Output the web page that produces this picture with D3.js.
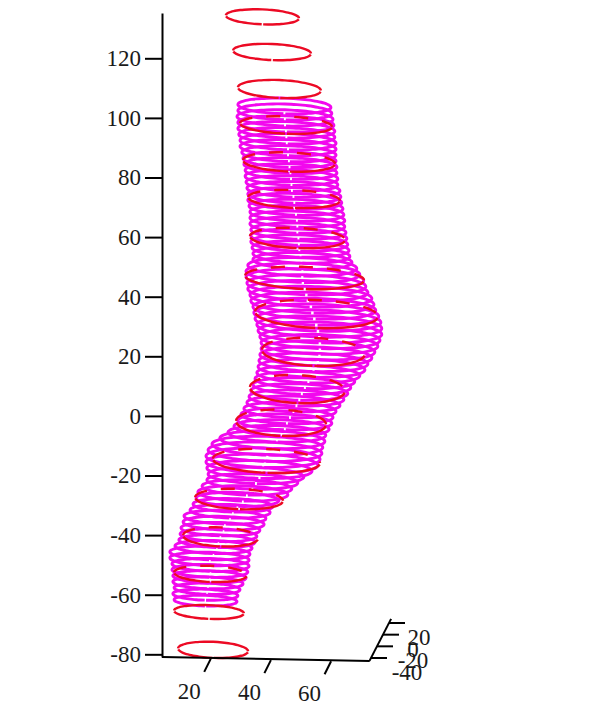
<!DOCTYPE html>
<html>
<head>
  <meta charset="UTF-8">
  <title>Ring stack</title>
  <script src="https://d3js.org/d3.v7.min.js"></script>
  <style>
    html, body { margin: 0; padding: 0; background: #fff; }
    svg { display: block; }
    text { font-family: "Liberation Serif", serif; font-size: 23px; fill: #1a1a1a; }
    .axis path, .axis line, .axis-line { stroke: #000; stroke-width: 2; fill: none; }
  </style>
</head>
<body>
  <svg width="600" height="707"></svg>
  <script>
    const zTicks = [120, 100, 80, 60, 40, 20, 0, -20, -40, -60, -80];
    const xTicks = [20, 40, 60];
    const depthTicks = [20, 0, -20, -40];

    // magenta rings, top to bottom
    const ringZ = [104,102,100,98,96,94,92,90,88,86,84,82,80,78,76,74,72,70,68,66,64,62,60,58,56,54,52,50,48,46,44,42,40,38,36,34,32,30,28,26,24,22,20,18,16,14,12,10,8,6,4,2,0,-2,-4,-6,-8,-10,-12,-14,-16,-18,-20,-22,-24,-26,-28,-30,-32,-34,-36,-38,-40,-42,-44,-46,-48,-50,-52,-54,-56,-58,-60,-62];
    const ringLeft = [29.2,29.2,28.9,29.2,29.2,29.5,29.9,29.9,30.5,30.9,31.2,31.6,31.6,31.9,32.2,32.5,32.5,32.9,33.2,33.2,33.2,33.5,33.5,33.5,33.9,34.2,34.2,32.5,31.9,31.9,32.2,32.5,33.2,33.5,34.2,34.5,34.9,35.5,35.9,36.5,36.9,36.9,36.5,36.2,35.9,35.5,34.9,34.2,33.5,32.9,32.2,31.2,30.2,29.2,27.9,25.9,23.2,20.6,19.3,18.6,18.6,18.9,19.3,18.9,17.3,15.9,15.3,14.3,13.3,11.3,11,10.3,10,9.6,8.3,6.6,6.6,7.3,7.3,7.6,7.6,8,7.6,8];
    const ringRight = [60.1,60.4,60.8,61.1,61.4,61.4,61.8,61.8,61.8,61.8,62.1,62.1,62.4,62.4,63.1,63.4,63.7,64.1,64.4,64.7,64.7,65.1,65.4,65.7,66.1,66.4,67.1,68.7,69.7,71,71.7,72.4,73.7,74.4,75,76,76.7,77,77,76.4,75.7,74.7,73.7,72.4,71.4,69.7,68,66.7,65.7,64.4,63.1,61.8,60.8,60.4,59.5,58.4,58.1,57.4,57.1,56.5,55.8,53.8,51.1,49.1,47.1,45.8,42.8,40.8,39.9,38.5,37.9,36.5,35.5,34.9,33.9,33.2,32.9,32.9,32.5,31.9,30.9,29.9,29.2,28.9];

    // red rings
    const redZ = [133.9,122.1,109.7,97.6,85.2,72.8,59.7,46.3,34.2,21.5,9,-2.3,-15.1,-27.9,-40.6,-53,-65.8,-78.5];
    const redLeft = [25.2,27.6,29.2,29.9,30.9,32.6,33.2,31.6,34.9,37.2,33.2,28.6,20.9,15,11,8,8,9.3];
    const redRight = [49.5,53.5,56.8,60.5,61.5,63.1,64.8,71.1,75.7,71.4,64.8,58.5,56.5,44.2,35.9,32.2,31.2,32.6];
    const redMinor = [2.5,2.7,3,2.9,3.2,3,3.4,3.7,4.7,4.7,4.7,4.4,4,3.4,3.2,2.7,2.3,2.7];

    const svg = d3.select("svg");

    const z = d3.scaleLinear().domain([135.2, -80.9]).range([13, 657]);
    const x = d3.scaleLinear().domain([0, 80]).range([150, 390.8]);
    const xBase = d3.scaleLinear().domain([4, 73]).range([657, 661]);
    const depthX = d3.scaleLinear().domain([-40, 20]).range([371, 389]);
    const depthY = d3.scaleLinear().domain([-40, 20]).range([658, 623]);

    const sweep = d3.range(0, 49).map(i => Math.PI / 2 + 0.02 + i / 48 * (2 * Math.PI - 0.04));
    const ringLine = d3.line().curve(d3.curveCardinal);

    function ringPoints(zv, left, right, minor, tilt, angles) {
      const x0 = x(left), x1 = x(right);
      const cx = (x0 + x1) / 2, rx = (x1 - x0) / 2;
      const ry = z(zv - minor) - z(zv);
      return angles.map(a => {
        const px = rx * Math.cos(a);
        return [cx + px, z(zv) + ry * Math.sin(a) + px * tilt];
      });
    }

    const frontStart = sweep.filter(a => a < Math.PI + 0.01);
    const frontEnd = sweep.filter(a => a > 2 * Math.PI - 0.01);
    const backArc = sweep.filter(a => a >= Math.PI - 0.01 && a <= 2 * Math.PI + 0.01);

    svg.append("g").selectAll("path")
      .data(ringZ)
      .enter().append("path")
      .attr("d", (d, i) => ringLine(ringPoints(d, ringLeft[i], ringRight[i], (ringRight[i] - ringLeft[i]) * 0.085, 0.03, sweep)))
      .attr("fill", "none")
      .attr("stroke", "#f208ee")
      .attr("stroke-width", 2.9);

    // red front arcs solid, back arcs broken up as they are mostly hidden in the reference
    const redOver = svg.append("g")
      .attr("fill", "none")
      .attr("stroke", "#ec0a24")
      .attr("stroke-width", 2.4);
    redOver.selectAll("path.front-a")
      .data(redZ)
      .enter().append("path").attr("class", "front-a")
      .attr("d", (d, i) => ringLine(ringPoints(d, redLeft[i], redRight[i], redMinor[i], 0.04, frontStart)));
    redOver.selectAll("path.front-b")
      .data(redZ)
      .enter().append("path").attr("class", "front-b")
      .attr("d", (d, i) => ringLine(ringPoints(d, redLeft[i], redRight[i], redMinor[i], 0.04, frontEnd)));
    redOver.selectAll("path.back")
      .data(redZ)
      .enter().append("path").attr("class", "back")
      .attr("stroke-dasharray", (d, i) => (i < 3 || i > 15) ? null : "14 14")
      .attr("d", (d, i) => ringLine(ringPoints(d, redLeft[i], redRight[i], redMinor[i], 0.04, backArc)));

    // vertical axis
    svg.append("g")
      .attr("class", "axis")
      .attr("transform", "translate(162,0)")
      .call(d3.axisLeft(z).tickValues(zTicks).tickSize(17).tickSizeOuter(0).tickPadding(4).tickFormat(d => String(d)))
      .attr("font-family", null).attr("font-size", null);

    // floor axis
    svg.append("line").attr("class", "axis-line")
      .attr("x1", x(4)).attr("y1", xBase(4)).attr("x2", x(73)).attr("y2", xBase(73));
    const xg = svg.append("g").selectAll("g").data(xTicks).enter().append("g");
    xg.append("line").attr("class", "axis-line")
      .attr("x1", d => x(d) + 0.5).attr("y1", d => xBase(d) + 1)
      .attr("x2", d => x(d) - 6).attr("y2", d => xBase(d) + 14);
    xg.append("text").attr("text-anchor", "middle")
      .attr("x", d => x(d) - 21).attr("y", d => xBase(d) + 41)
      .text(d => d);

    // depth axis
    svg.append("line").attr("class", "axis-line")
      .attr("x1", depthX(-45)).attr("y1", depthY(-45)).attr("x2", depthX(27)).attr("y2", depthY(27));
    const dg = svg.append("g").selectAll("g").data(depthTicks).enter().append("g");
    dg.append("line").attr("class", "axis-line")
      .attr("x1", d => depthX(d)).attr("y1", d => depthY(d))
      .attr("x2", d => depthX(d) + 16).attr("y2", d => depthY(d));
    dg.append("text").attr("text-anchor", "middle")
      .attr("x", d => depthX(d) + (d < 0 ? 36 : 30)).attr("y", d => depthY(d) + 22)
      .text(d => d);
  </script>
</body>
</html>
